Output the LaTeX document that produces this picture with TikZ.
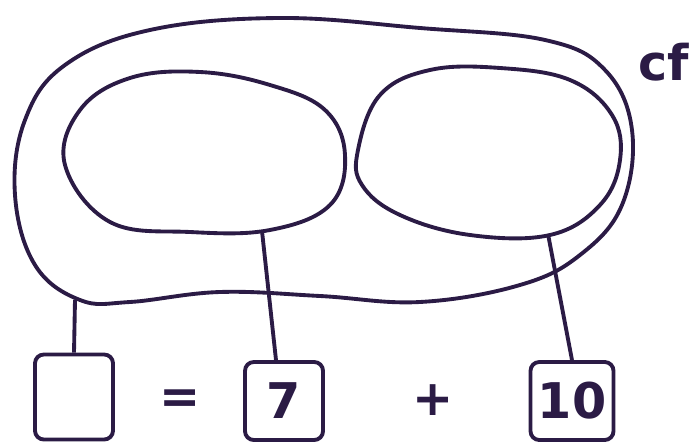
\documentclass[tikz,border=0pt]{standalone}
\usepackage{fontspec}
\setsansfont{DejaVu Sans}
\definecolor{ink}{HTML}{2B1B45}
\tikzset{
  blob/.style={draw=ink, line width=2.2pt, smooth cycle, tension=0.65},
  valbox/.style={draw=ink, line width=2.2pt, rounded corners=5pt, minimum width=1.56cm, minimum height=1.56cm, inner sep=0pt, text=ink, font=\sffamily\bfseries\fontsize{28}{30}\selectfont},
  op/.style={text=ink, font=\sffamily\bfseries\fontsize{28}{30}\selectfont},
  link/.style={draw=ink, line width=2.2pt}
}
\begin{document}
\begin{tikzpicture}[x=0.02cm, y=-0.02cm]
  \useasboundingbox (0,0) rectangle (696,446);
  % outer and inner blobs
  \draw[blob] plot coordinates {(80,300) (35,265) (15,195) (25,120) (65,65) (150,30) (280,18) (420,28) (545,40) (605,70) (632,130) (622,205) (580,255) (520,285) (420,302) (320,296) (220,292) (130,302)};
  \draw[blob] plot coordinates {(65,165) (80,110) (130,78) (200,72) (270,85) (325,110) (345,155) (330,205) (270,230) (190,232) (110,222)};
  \draw[blob] plot coordinates {(358,150) (380,95) (430,70) (500,68) (570,80) (612,115) (620,160) (600,205) (550,235) (470,235) (400,215) (362,185)};
  \node[op] at (664,62) (cf) {cf};
  \coordinate (outerfoot) at (75,300);
  \coordinate (leftfoot) at (262,231);
  \coordinate (rightfoot) at (548,234);
  % equation boxes
  \node[valbox, minimum height=1.7cm] at (74,397) (sum) {};
  \node[op] at (180,402) (eq) {=};
  \node[valbox] at (284,401) (seven) {7};
  \node[op] at (433,400) (plus) {+};
  \node[valbox, minimum width=1.66cm] at (572,401) (ten) {10};
  \draw[link] (outerfoot) -- (sum.north);
  \draw[link] (leftfoot) -- (seven.north -| 276,0);
  \draw[link] (rightfoot) -- (ten.north -| 572,0);
\end{tikzpicture}
\end{document}
